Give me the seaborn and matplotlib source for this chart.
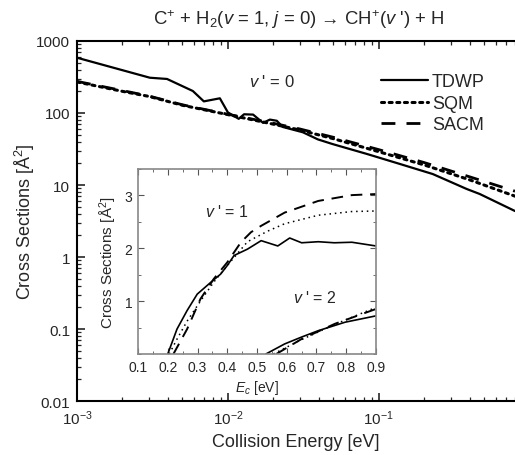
import numpy as np
import pandas as pd
import seaborn as sns
import matplotlib
matplotlib.use("Agg")
import matplotlib.pyplot as plt
from matplotlib.ticker import FuncFormatter, MultipleLocator, LogLocator

# main panel: v' = 0 cross sections vs collision energy
e_tdwp = [0.001, 0.00304, 0.00395, 0.00586, 0.00693, 0.00885, 0.0100, 0.0118, 0.0128,
          0.0147, 0.0171, 0.0190, 0.0211, 0.0231, 0.0314, 0.0395, 0.0495, 0.0834,
          0.138, 0.228, 0.383, 0.467, 0.80]
s_tdwp = [586, 309, 297, 202, 145, 160, 102, 83, 96,
          95, 73, 81, 78, 64, 54, 43, 37, 27,
          19.6, 14.2, 8.8, 7.5, 4.35]
e_model = [0.001, 0.002, 0.003, 0.005, 0.01, 0.02, 0.03, 0.05, 0.1, 0.2, 0.4, 0.8]
s_sqm = [270, 200, 170, 128, 95, 70, 58, 44, 29, 19, 11.8, 7.0]
s_sacm = [275, 205, 172, 130, 96, 72, 60, 46, 31, 20.5, 13.0, 8.2]

# inset: v' = 1 and v' = 2
e1_tdwp = [0.2, 0.231, 0.265, 0.299, 0.344, 0.378, 0.40, 0.423, 0.468, 0.514, 0.57,
           0.61, 0.65, 0.706, 0.76, 0.819, 0.9]
s1_tdwp = [0, 0.47, 0.82, 1.13, 1.35, 1.51, 1.67, 1.86, 1.98, 2.14, 2.04,
           2.19, 2.10, 2.12, 2.10, 2.11, 2.04]
e1_sqm = [0.205, 0.231, 0.265, 0.31, 0.355, 0.40, 0.468, 0.536, 0.593, 0.706, 0.819, 0.9]
s1_sqm = [0, 0.28, 0.62, 1.0, 1.36, 1.67, 2.12, 2.32, 2.46, 2.62, 2.69, 2.70]
e1_sacm = [0.219, 0.265, 0.31, 0.355, 0.40, 0.446, 0.48, 0.514, 0.593, 0.706, 0.819, 0.9]
s1_sacm = [0, 0.47, 1.04, 1.42, 1.73, 2.11, 2.30, 2.42, 2.67, 2.89, 3.0, 3.02]

e2_tdwp = [0.53, 0.593, 0.65, 0.706, 0.796, 0.9]
s2_tdwp = [0, 0.19, 0.32, 0.44, 0.60, 0.72]
e2_sqm = [0.555, 0.649, 0.762, 0.9]
s2_sqm = [0, 0.27, 0.56, 0.88]
e2_sacm = [0.565, 0.649, 0.762, 0.9]
s2_sacm = [0, 0.28, 0.57, 0.85]

sns.set_style("ticks")
plt.rcParams['font.family'] = ['Liberation Sans', 'DejaVu Sans']
plt.rcParams['mathtext.fontset'] = 'custom'
plt.rcParams['mathtext.rm'] = 'Liberation Sans'
plt.rcParams['mathtext.it'] = 'Liberation Sans:italic'

fig = plt.figure(figsize=(5.15, 4.56), dpi=100)
ax = fig.add_axes([0.1495, 0.1184, 0.8505, 0.7895])

styles = {'TDWP': dict(linestyle='-', linewidth=1.6),
          'SQM': dict(linestyle=(0, (1, 1.5)), linewidth=2.2, dash_capstyle='round'),
          'SACM': dict(linestyle=(0, (5, 4)), linewidth=2.0)}

sns.lineplot(x=e_tdwp, y=s_tdwp, ax=ax, color='k', label='TDWP', **styles['TDWP'])
sns.lineplot(x=e_model, y=s_sqm, ax=ax, color='k', label='SQM', **styles['SQM'])
sns.lineplot(x=e_model, y=s_sacm, ax=ax, color='k', label='SACM', **styles['SACM'])

ax.set_xscale('log')
ax.set_yscale('log')
ax.set_xlim(1e-3, 0.8)
ax.set_ylim(0.01, 1000)
ax.yaxis.set_major_formatter(FuncFormatter(lambda v, p: '{:g}'.format(v)))
ax.yaxis.set_minor_locator(LogLocator(base=10, subs=np.arange(2, 10), numticks=20))
ax.xaxis.set_minor_locator(LogLocator(base=10, subs=np.arange(2, 10), numticks=20))
ax.tick_params(which='both', direction='in', top=True, right=False, labelsize=11, pad=5)
ax.tick_params(which='major', length=6, width=1.2)
ax.tick_params(which='minor', length=3, width=0.9)
for s in ['left', 'bottom', 'top']:
    ax.spines[s].set_linewidth(1.5)
    ax.spines[s].set_color('k')
ax.spines['right'].set_visible(False)
ax.set_xlabel('Collision Energy [eV]', fontsize=13, labelpad=5)
ax.set_ylabel('Cross Sections [Å$^2$]', fontsize=13, labelpad=-1)

ax.legend(loc='upper left', bbox_to_anchor=(0.678, 0.93), frameon=False, fontsize=13,
          handlelength=2.6, handletextpad=0.2, labelspacing=0.25, borderaxespad=0)
ax.text(0.445, 0.889, "$v$ ' = 0", transform=ax.transAxes, fontsize=12, ha='center', va='center')

fig.text(0.58, 0.958, 'C$^{+}$ + H$_2$($v$ = 1, $j$ = 0) → CH$^{+}$($v$ \') + H',
         ha='center', va='center', fontsize=13.3)

# inset
ins = fig.add_axes([0.268, 0.2215, 0.462, 0.4065])
ins_styles = {'TDWP': dict(linestyle='-', linewidth=1.2),
              'SQM': dict(linestyle=(0, (1, 2.5)), linewidth=1.1),
              'SACM': dict(linestyle=(0, (6, 4)), linewidth=1.4)}
for e, s, key in [(e1_tdwp, s1_tdwp, 'TDWP'), (e1_sqm, s1_sqm, 'SQM'), (e1_sacm, s1_sacm, 'SACM'),
                  (e2_tdwp, s2_tdwp, 'TDWP'), (e2_sqm, s2_sqm, 'SQM'), (e2_sacm, s2_sacm, 'SACM')]:
    sns.lineplot(x=e, y=s, ax=ins, color='k', legend=False, **ins_styles[key])

ins.set_xlim(0.1, 0.9)
ins.set_ylim(0, 3.5)
ins.xaxis.set_major_locator(MultipleLocator(0.1))
ins.xaxis.set_minor_locator(MultipleLocator(0.05))
ins.yaxis.set_major_locator(MultipleLocator(1))
ins.yaxis.set_minor_locator(MultipleLocator(0.5))
ins.set_yticks([1, 2, 3])
ins.xaxis.set_major_formatter(FuncFormatter(lambda v, p: '{:.1f}'.format(v)))
ins.tick_params(which='both', direction='in', top=True, right=True, labelsize=10, pad=4,
                color='#555')
ins.tick_params(which='major', length=4)
ins.tick_params(which='minor', length=2)
for s in ins.spines.values():
    s.set_color('#888')
    s.set_linewidth(1.2)
ins.set_xlabel('$E_c$ [eV]', fontsize=10, labelpad=3)
ins.set_ylabel('Cross Sections [Å$^2$]', fontsize=11, labelpad=4)
ins.text(0.398, 2.7, "$v$ ' = 1", fontsize=11.5, ha='center', va='center')
ins.text(0.693, 1.08, "$v$ ' = 2", fontsize=11.5, ha='center', va='center')

fig.savefig('out.png', dpi=100)
